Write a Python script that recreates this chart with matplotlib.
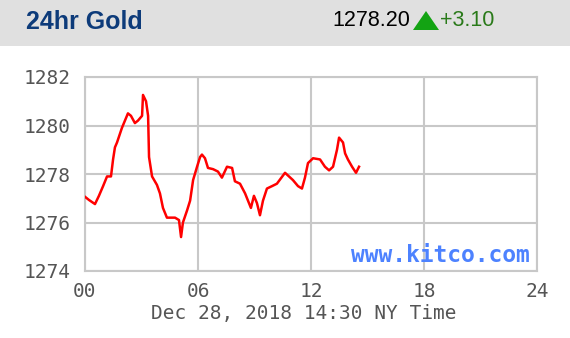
import matplotlib
matplotlib.use("Agg")
from matplotlib import pyplot as plt
from matplotlib.patches import Rectangle, Polygon

# gold price over the day (hours since midnight NY, price in USD)
hours = [0.00, 0.21, 0.53, 0.74, 0.96, 1.17, 1.38, 1.49, 1.59, 1.70,
         1.96, 2.28, 2.44, 2.65, 2.81, 3.03, 3.08, 3.24, 3.35, 3.40,
         3.56, 3.82, 3.98, 4.14, 4.35, 4.51, 4.78, 4.99, 5.10, 5.20,
         5.42, 5.58, 5.74, 5.95, 6.11, 6.21, 6.37, 6.53, 6.80, 7.06,
         7.27, 7.54, 7.81, 7.96, 8.23, 8.50, 8.81, 8.97, 9.13, 9.29,
         9.45, 9.66, 9.93, 10.19, 10.62, 11.04, 11.31, 11.52, 11.68, 11.84,
         12.11, 12.48, 12.74, 12.96, 13.17, 13.38, 13.49, 13.70, 13.81, 13.96,
         14.18, 14.39, 14.55]
prices = [1277.06, 1276.93, 1276.76, 1277.10, 1277.50, 1277.90, 1277.90, 1278.60, 1279.10, 1279.30,
          1279.90, 1280.50, 1280.40, 1280.10, 1280.20, 1280.40, 1281.26, 1281.00, 1280.40, 1278.70,
          1277.90, 1277.55, 1277.20, 1276.60, 1276.20, 1276.20, 1276.20, 1276.10, 1275.40, 1276.00,
          1276.50, 1276.90, 1277.75, 1278.30, 1278.70, 1278.80, 1278.65, 1278.25, 1278.20, 1278.10,
          1277.85, 1278.30, 1278.25, 1277.70, 1277.60, 1277.20, 1276.60, 1277.10, 1276.80, 1276.30,
          1276.90, 1277.40, 1277.50, 1277.60, 1278.05, 1277.75, 1277.50, 1277.40, 1277.85, 1278.45,
          1278.65, 1278.60, 1278.30, 1278.15, 1278.30, 1279.00, 1279.50, 1279.30, 1278.85, 1278.60,
          1278.30, 1278.05, 1278.30]

x_ticks = [0, 6, 12, 18, 24]
x_labels = ["00", "06", "12", "18", "24"]
y_ticks = [1274, 1276, 1278, 1280, 1282]

title = "24hr Gold"
last_price = "1278.20"
change = "+3.10"
footer = "Dec 28, 2018 14:30 NY Time"

W, H = 570, 338
fig = plt.figure(figsize=(W / 100, H / 100), dpi=100)
fig.patch.set_facecolor("white")

def fx(px):
  return px / W

def fy(py):
  return 1 - py / H

# gray header band
fig.patches.append(Rectangle((0, fy(46)), 1, 46 / H, transform=fig.transFigure,
                             facecolor="#e0e0e0", edgecolor="none", zorder=0))
fig.text(fx(26), fy(22), title, fontsize=18, fontweight="bold", color="#0d3b7a",
         family="Liberation Sans", ha="left", va="center")
fig.text(fx(410), fy(21), last_price, fontsize=15.5, color="black",
         family="Liberation Sans", ha="right", va="center")
fig.patches.append(Polygon([(fx(413), fy(30)), (fx(439), fy(30)), (fx(426), fy(11))],
                           closed=True, transform=fig.transFigure,
                           facecolor="#13a313", edgecolor="none"))
fig.text(fx(440), fy(21), change, fontsize=15.5, color="#2a7a1a",
         family="Liberation Sans", ha="left", va="center")

ax = fig.add_axes([fx(85), fy(271), (537 - 85) / W, (271 - 77) / H])
ax.plot(hours, prices, color="red", linewidth=1.8, zorder=3)

ax.set_xlim(0, 24)
ax.set_ylim(1274, 1282)
ax.set_xticks(x_ticks)
ax.set_xticklabels(x_labels)
ax.set_yticks(y_ticks)
ax.grid(True, color="#c8c8c8", linewidth=1.5)
for s in ax.spines.values():
  s.set_color("#c8c8c8")
  s.set_linewidth(1.5)
ax.tick_params(length=0, labelsize=14, labelcolor="#555555")
ax.tick_params(axis="y", pad=10)
ax.tick_params(axis="x", pad=8)
for lab in ax.get_xticklabels() + ax.get_yticklabels():
  lab.set_family("DejaVu Sans Mono")

ax.text(0.985, 0.08, "www.kitco.com", transform=ax.transAxes, ha="right", va="center",
        fontsize=16.5, fontweight="bold", color="#4d82ff", family="DejaVu Sans Mono")

fig.text(fx(304), fy(314), footer, fontsize=14, color="#555555",
         family="DejaVu Sans Mono", ha="center", va="center")

fig.savefig("out.png", dpi=100)
